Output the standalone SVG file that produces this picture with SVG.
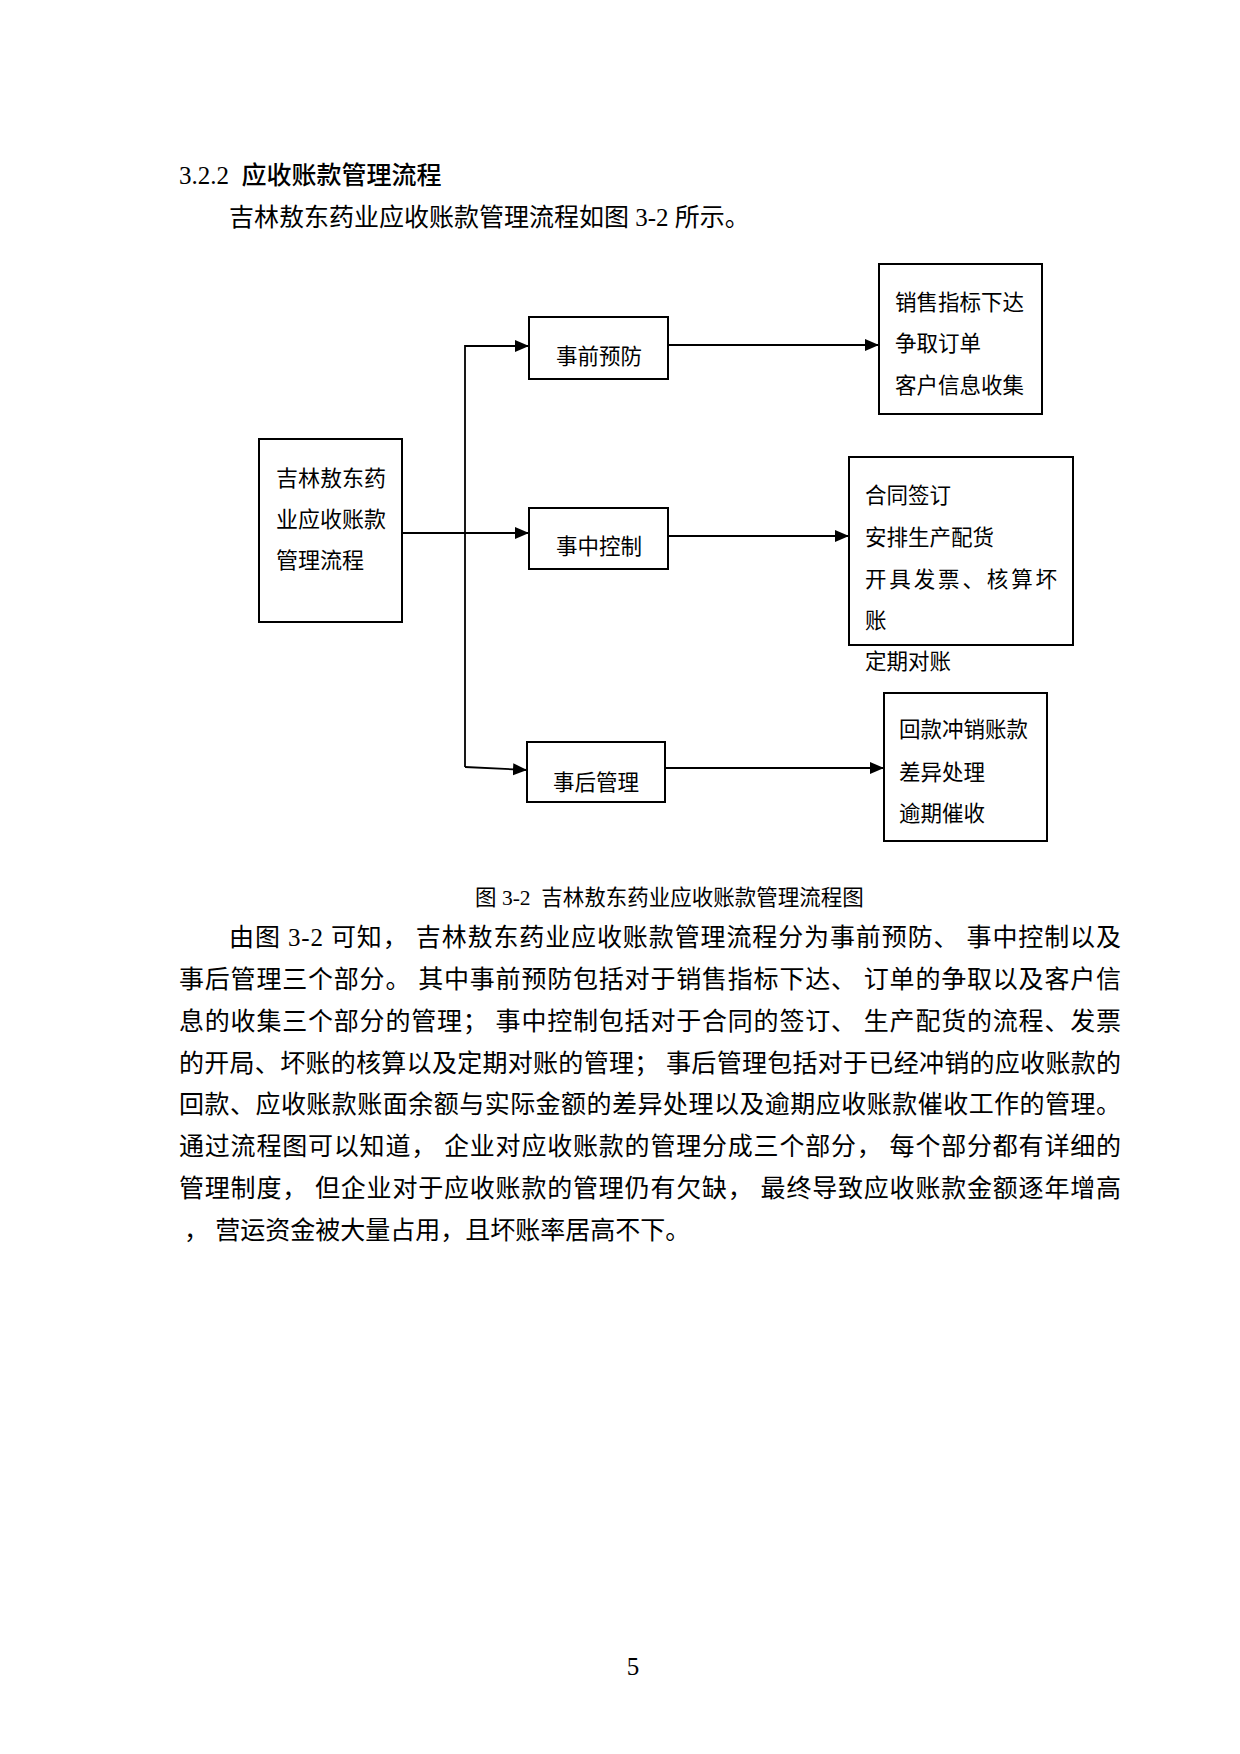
<svg xmlns="http://www.w3.org/2000/svg" width="1240" height="1754" viewBox="0 0 1240 1754">
<style>
.body{font-family:"Liberation Serif","Noto Sans CJK SC",serif;font-size:25px;fill:#000}
.head{font-family:"Liberation Serif","Noto Sans CJK SC",sans-serif;font-size:25px;fill:#000}
.node rect{fill:#fff;stroke:#000;stroke-width:2}
.nt{font-family:"Liberation Serif","Noto Sans CJK SC",serif;font-size:21.5px;fill:#000}
.mt{font-family:"Liberation Serif","Noto Sans CJK SC",serif;font-size:22px;fill:#000}
.cap{font-family:"Liberation Serif","Noto Sans CJK SC",serif;font-size:21.5px;fill:#000}
#connectors path{fill:none;stroke:#000;stroke-width:1.8}
</style>
<defs>
<marker id="arr" markerUnits="userSpaceOnUse" markerWidth="15" markerHeight="13" refX="14" refY="6" orient="auto">
<path d="M0,0 L14,6 L0,12 z" fill="#000"/>
</marker>
</defs>
<rect width="1240" height="1754" fill="#fff"/>

<text class="head" x="179" y="184" xml:space="preserve">3.2.2  <tspan font-family="Noto Sans CJK SC" font-weight="500">应收账款管理流程</tspan></text>
<text class="body" x="229" y="226">吉林敖东药业应收账款管理流程如图 3-2 所示。</text>

<g id="connectors">
<path d="M465,767 V346 H529" marker-end="url(#arr)"/>
<path d="M403,533 H529" marker-end="url(#arr)"/>
<path d="M465,767 L527,770" marker-end="url(#arr)"/>
<path d="M669,345 H879" marker-end="url(#arr)"/>
<path d="M669,536 H849" marker-end="url(#arr)"/>
<path d="M666,768 H884" marker-end="url(#arr)"/>
</g>

<g id="main" class="node">
<rect x="259" y="439" width="143" height="183"/>
<text class="mt" x="276" y="486">吉林敖东药</text>
<text class="mt" x="276" y="527">业应收账款</text>
<text class="mt" x="276" y="568">管理流程</text>
</g>

<g id="prevent" class="node">
<rect x="529" y="317" width="139" height="62"/>
<text class="nt" x="599" y="364" text-anchor="middle">事前预防</text>
</g>

<g id="control" class="node">
<rect x="529" y="508" width="139" height="61"/>
<text class="nt" x="599" y="554" text-anchor="middle">事中控制</text>
</g>

<g id="after" class="node">
<rect x="527" y="742" width="138" height="60"/>
<text class="nt" x="596" y="790" text-anchor="middle">事后管理</text>
</g>

<g id="box1" class="node">
<rect x="879" y="264" width="163" height="150"/>
<text class="nt" x="895" y="310">销售指标下达</text>
<text class="nt" x="895" y="351">争取订单</text>
<text class="nt" x="895" y="393">客户信息收集</text>
</g>

<g id="box2" class="node">
<rect x="849" y="457" width="224" height="188"/>
<text class="nt" x="865" y="503">合同签订</text>
<text class="nt" x="865" y="545">安排生产配货</text>
<text class="nt" x="865" y="587" textLength="192" lengthAdjust="spacing">开具发票、核算坏</text>
<text class="nt" x="865" y="628">账</text>
<text class="nt" x="865" y="669">定期对账</text>
</g>

<g id="box3" class="node">
<rect x="884" y="693" width="163" height="148"/>
<text class="nt" x="899" y="737">回款冲销账款</text>
<text class="nt" x="899" y="780">差异处理</text>
<text class="nt" x="899" y="821">逾期催收</text>
</g>

<text class="cap" x="475" y="905" xml:space="preserve">图 3-2  吉林敖东药业应收账款管理流程图</text>

<text class="body" x="229" y="946" textLength="892" lengthAdjust="spacing">由图 3-2 可知， 吉林敖东药业应收账款管理流程分为事前预防、 事中控制以及</text>
<text class="body" x="179" y="988" textLength="942" lengthAdjust="spacing">事后管理三个部分。 其中事前预防包括对于销售指标下达、 订单的争取以及客户信</text>
<text class="body" x="179" y="1030" textLength="942" lengthAdjust="spacing">息的收集三个部分的管理； 事中控制包括对于合同的签订、 生产配货的流程、发票</text>
<text class="body" x="179" y="1072" textLength="942" lengthAdjust="spacing">的开局、坏账的核算以及定期对账的管理； 事后管理包括对于已经冲销的应收账款的</text>
<text class="body" x="179" y="1113" textLength="942" lengthAdjust="spacing">回款、应收账款账面余额与实际金额的差异处理以及逾期应收账款催收工作的管理。</text>
<text class="body" x="179" y="1155" textLength="942" lengthAdjust="spacing">通过流程图可以知道， 企业对应收账款的管理分成三个部分， 每个部分都有详细的</text>
<text class="body" x="179" y="1197" textLength="942" lengthAdjust="spacing">管理制度， 但企业对于应收账款的管理仍有欠缺， 最终导致应收账款金额逐年增高</text>
<text class="body" x="184" y="1239">， 营运资金被大量占用，且坏账率居高不下。</text>

<text class="body" x="633" y="1675" font-size="21" text-anchor="middle">5</text>
</svg>
